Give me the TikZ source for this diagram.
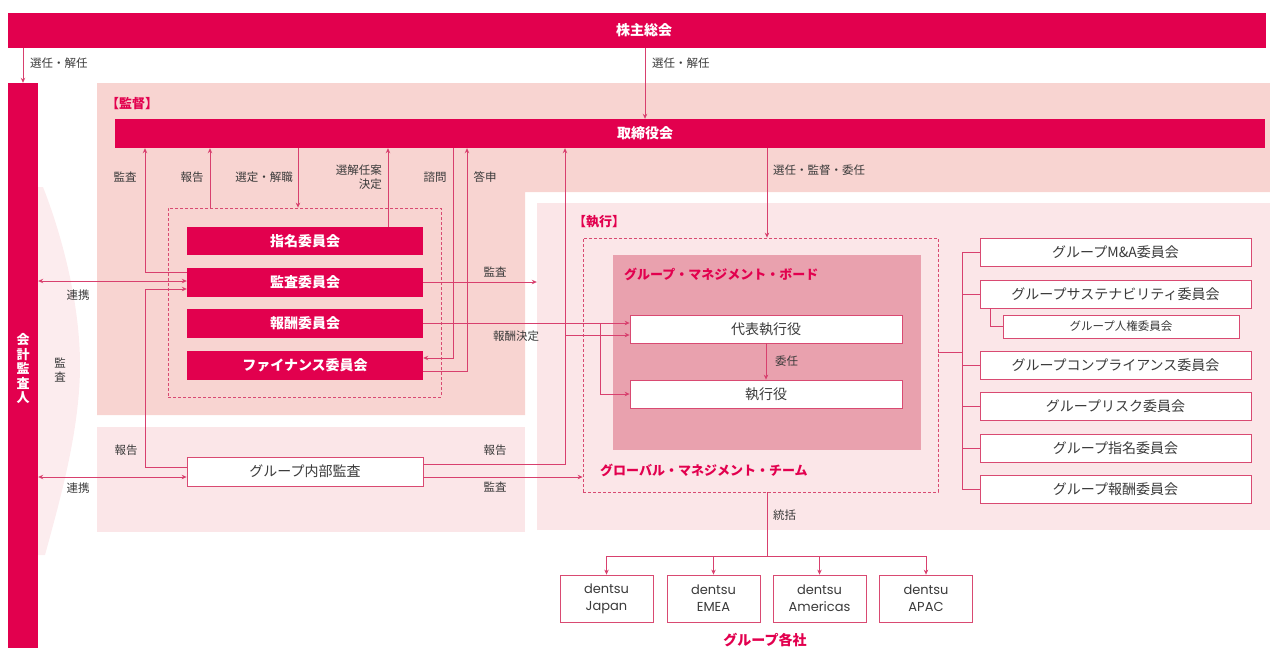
\documentclass[tikz,border=0pt]{standalone}
\usepackage{fontspec}
\setmainfont{Noto Sans CJK JP}
\newfontfamily\pop{Poppins}
\usetikzlibrary{arrows.meta}
\definecolor{dred}{HTML}{E2004E}
\definecolor{supfill}{HTML}{F8D4D1}
\definecolor{lightfill}{HTML}{FBE6E8}
\definecolor{wedgefill}{HTML}{FCECEE}
\definecolor{gmbfill}{HTML}{E9A1AE}
\definecolor{lc}{HTML}{D8406E}
\definecolor{bord}{HTML}{D94A72}
\definecolor{txt}{HTML}{3A3A3A}
\newcommand{\fs}[1]{\fontsize{#1}{#1}\selectfont}
\tikzset{
  sz/.style 2 args={minimum width=#1pt, minimum height=#2pt},
  redbox/.style={fill=dred, draw=none, text=white, inner sep=0pt, font=\fs{14}\bfseries},
  redtxt/.style={text=white, inner sep=0pt, font=\fs{14}\bfseries},
  wbox/.style={fill=white, draw=bord, line width=0.8pt, inner sep=0pt, text=txt, font=\fs{14}},
  lbl/.style={text=txt, font=\fs{11.5}, inner sep=0pt},
  ttl/.style={text=dred, font=\fs{13}\bfseries, inner sep=0pt},
  ln/.style={draw=lc, line width=0.7pt},
  arr/.style={ln, -{Stealth[length=5pt,width=4.5pt]}},
  arrb/.style={ln, {Stealth[length=5pt,width=4.5pt]}-{Stealth[length=5pt,width=4.5pt]}},
  dbox/.style={draw=bord, dash pattern=on 3pt off 2pt, line width=0.8pt, inner sep=0pt},
  region/.style={draw=none, inner sep=0pt}
}
\begin{document}
\begin{tikzpicture}[x=1pt,y=-1pt]
\useasboundingbox (0,0) rectangle (1270,648);
% regions
\fill[supfill] (97,83) -- (1270,83) -- (1270,192) -- (525,192) -- (525,415) -- (97,415) -- cycle;
\node[region, fill=lightfill, sz={733}{327}] (execreg) at (903.5,366.5) {};
\node[region, fill=lightfill, sz={428}{105}] (iareg) at (311,479.5) {};
\fill[wedgefill] (38,187) -- (43,187) .. controls (60,230) and (80,300) .. (80,365) .. controls (80,430) and (60,500) .. (45,555) -- (38,555) -- cycle;
\node[ttl] (suplbl) at (132,104) {【監督】};
\node[ttl] (exelbl) at (599,222) {【執行】};

% top bars
\node[redbox, sz={1258}{35}] (agm) at (637,30.5) {};
\node[redtxt] (agmtxt) at (644,30.5) {株主総会};
\node[redbox, sz={30}{565}] (auditor) at (23,365.5) {};
\node[redtxt, align=center, font=\fs{13}\bfseries, text=white] (audtxt) at (23,369) {会\\[1.5pt]計\\[1.5pt]監\\[1.5pt]査\\[1.5pt]人};
\node[redbox, sz={1150}{29}] (board) at (690,133.5) {};
\node[redtxt] (boardtxt) at (645,133.5) {取締役会};

% committees
\node[dbox, sz={273}{189}] (commdash) at (304.5,302.5) {};
\node[redbox, sz={236}{28}] (nom) at (305,241) {指名委員会};
\node[redbox, sz={236}{29}] (aud) at (305,282) {監査委員会};
\node[redbox, sz={236}{29}] (rem) at (305,323.5) {報酬委員会};
\node[redbox, sz={236}{29}] (fin) at (305,365) {ファイナンス委員会};
\node[wbox, sz={236}{29}] (ia) at (305,471.5) {グループ内部監査};

% executive
\node[dbox, sz={355}{254}] (gmt) at (760.5,365) {};
\node[region, fill=gmbfill, sz={308}{195}] (gmb) at (767,352.5) {};
\node[ttl, anchor=west] (gmbtxt) at (624,274) {グループ・マネジメント・ボード};
\node[ttl, anchor=west] (gmttxt) at (600,470) {グローバル・マネジメント・チーム};
\node[wbox, sz={272}{28}] (ceo) at (766,329) {代表執行役};
\node[wbox, sz={272}{28}] (eo) at (766,394) {執行役};

% right committees
\node[wbox, sz={271}{28}] (rc1) at (1115.5,252) {グループM\&A委員会};
\node[wbox, sz={271}{28}] (rc2) at (1115.5,294) {グループサステナビリティ委員会};
\node[wbox, sz={236}{23}, font=\fs{11.5}] (rc2b) at (1121,326.5) {グループ人権委員会};
\node[wbox, sz={271}{28}] (rc3) at (1115.5,365) {グループコンプライアンス委員会};
\node[wbox, sz={271}{28}] (rc4) at (1115.5,406) {グループリスク委員会};
\node[wbox, sz={271}{28}] (rc5) at (1115.5,448) {グループ指名委員会};
\node[wbox, sz={271}{28}] (rc6) at (1115.5,489) {グループ報酬委員会};

% group companies
\node[wbox, sz={93}{47}, align=center, font=\pop\fs{13}] (co1) at (606.5,598.5) {dentsu\\[4pt]Japan};
\node[wbox, sz={93}{47}, align=center, font=\pop\fs{13}] (co2) at (713.5,598.5) {dentsu\\[4pt]EMEA};
\node[wbox, sz={93}{47}, align=center, font=\pop\fs{13}] (co3) at (819.5,598.5) {dentsu\\[4pt]Americas};
\node[wbox, sz={93}{47}, align=center, font=\pop\fs{13}] (co4) at (926,598.5) {dentsu\\[4pt]APAC};
\node[ttl, font=\fs{14}\bfseries] (cotxt) at (765,640) {グループ各社};

% connectors: shareholders
\draw[arr] (auditor.north |- agm.south) -- (auditor.north);
\node[lbl, anchor=west] (l1) at (30,63) {選任・解任};
\draw[arr] (boardtxt.center |- agm.south) -- (boardtxt.center |- board.north);
\node[lbl, anchor=west] (l2) at (652,63) {選任・解任};

% board <-> committees
\draw[arr] (aud.west |- 0,272) -- (145,272) -- (145,0 |- board.south);
\node[lbl] (l3) at (125,177) {監査};
\draw[arr] (210,0 |- commdash.north) -- (210,0 |- board.south);
\node[lbl] (l4) at (192,177) {報告};
\draw[arr] (298,0 |- board.south) -- (298,0 |- commdash.north);
\node[lbl] (l5) at (264,177) {選定・解職};
\draw[arr] (388,0 |- nom.north) -- (388,0 |- board.south);
\node[lbl, align=right, anchor=east] (l6) at (382,177) {選解任案\\[2pt]決定};
\draw[arr] (453,0 |- board.south) -- (453,358) -- (fin.east |- 0,358);
\node[lbl] (l7) at (435,177) {諮問};
\draw[arr] (fin.east |- 0,371) -- (467,371) -- (467,0 |- board.south);
\node[lbl] (l8) at (485,177) {答申};

% auditor links
\draw[arrb] (auditor.east |- 0,281) -- (aud.west |- 0,281);
\node[lbl] (l9) at (78,295) {連携};
\draw[arrb] (auditor.east |- 0,477) -- (ia.west |- 0,477);
\node[lbl] (l10) at (78,488) {連携};
\node[lbl, align=center] (l11) at (60,370) {監\\[3pt]査};

% internal audit report to audit committee
\draw[arr] (ia.west |- 0,467) -- (145,467) -- (145,289) -- (aud.west |- 0,289);
\node[lbl] (l12) at (126,450) {報告};

% audit committee to execution
\draw[arr] (aud.east |- 0,282) -- (execreg.west |- 0,282);
\node[lbl] (l13) at (495,272) {監査};
\draw[arr] (rem.east |- 0,323) -- (ceo.west |- 0,323);
\draw[arr] (600,323) -- (600,394) -- (eo.west);
\node[lbl] (l14) at (516,336) {報酬決定};

% internal audit to board / ceo / gmt
\draw[arr] (ia.east |- 0,464) -- (565,464) -- (565,0 |- board.south);
\draw[arr] (565,335) -- (ceo.west |- 0,335);
\node[lbl] (l15) at (495,450) {報告};
\draw[arr] (ia.east |- 0,477) -- (gmt.west |- 0,477);
\node[lbl] (l16) at (495,487) {監査};

% board to gmt
\draw[arr] (767,0 |- board.south) -- (767,0 |- gmt.north);
\node[lbl, anchor=west] (l17) at (773,170) {選任・監督・委任};
\draw[arr] (ceo.south) -- (eo.north);
\node[lbl, anchor=west] (l18) at (775,361) {委任};

% right committee bus
\draw[ln] (gmt.east |- 0,352) -- (962,352);
\draw[ln] (962,0 |- rc1.west) -- (962,0 |- rc6.west);
\foreach \n in {rc1,rc2,rc3,rc4,rc5,rc6} \draw[ln] (962,0 |- \n.west) -- (\n.west);
\draw[ln] (990,0 |- rc2.south) -- (990,0 |- rc2b.west) -- (rc2b.west);

% group companies
\draw[ln] (767,0 |- gmt.south) -- (767,556);
\node[lbl, anchor=west] (l19) at (773,515) {統括};
\draw[ln] (co1.north |- 0,556) -- (co4.north |- 0,556);
\foreach \n in {co1,co2,co3,co4} \draw[arr] (\n.north |- 0,556) -- (\n.north);
\end{tikzpicture}
\end{document}
